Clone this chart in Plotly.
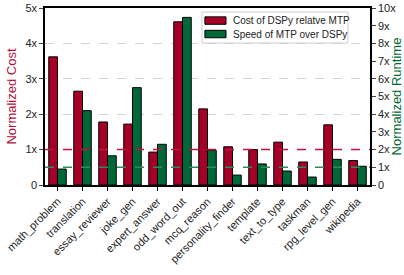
import plotly.graph_objects as go

categories = ["math_problem", "translation", "essay_reviewer", "joke_gen", "expert_answer",
              "odd_word_out", "mcq_reason", "personality_finder", "template", "text_to_type",
              "taskman", "rpg_level_gen", "wikipedia"]
cost = [3.62, 2.65, 1.78, 1.72, 0.93, 4.61, 2.15, 1.08, 1.0, 1.21, 0.65, 1.70, 0.69]
speed = [0.9, 4.2, 1.65, 5.5, 2.3, 9.47, 1.96, 0.56, 1.19, 0.79, 0.45, 1.45, 1.06]
series_names = ["Cost of DSPy relatve MTP", "Speed of MTP over DSPy"]
left_ticks = [0, 1, 2, 3, 4, 5]
left_labels = ["0", "1x", "2x", "3x", "4x", "5x"]
right_ticks = list(range(11))
right_labels = ["0"] + [f"{i}x" for i in range(1, 11)]

RED = "#A50026"
GREEN = "#006837"

fig = go.Figure()
fig.add_trace(go.Bar(x=categories, y=cost, name=series_names[0],
                     marker=dict(color=RED, line=dict(color="black", width=1)),
                     offsetgroup="a", yaxis="y", showlegend=False))
fig.add_trace(go.Bar(x=categories, y=speed, name=series_names[1],
                     marker=dict(color=GREEN, line=dict(color="black", width=1)),
                     offsetgroup="b", yaxis="y2", showlegend=False))

# reference lines at 1x on both axes
fig.add_shape(type="line", xref="paper", x0=0, x1=1, yref="y", y0=1, y1=1,
              line=dict(color="#C0143C", width=1.5, dash="dash"))
fig.add_shape(type="line", xref="paper", x0=0, x1=1, yref="y2", y0=1, y1=1,
              line=dict(color="#2E8B57", width=1.5, dash="dash"))

# compact legend box (matplotlib-like)
fig.add_shape(type="rect", xref="paper", yref="paper", x0=0.483, x1=0.932, y0=0.802, y1=0.977,
              fillcolor="rgba(255,255,255,0.85)", line=dict(color="#cccccc", width=1))
for i, (col, nm) in enumerate(zip([RED, GREEN], series_names)):
    yc = 0.929 - i * 0.076
    fig.add_shape(type="rect", xref="paper", yref="paper", x0=0.492, x1=0.557,
                  y0=yc - 0.021, y1=yc + 0.021, fillcolor=col,
                  line=dict(color="black", width=1))
    fig.add_annotation(xref="paper", yref="paper", x=0.572, y=yc, text=nm,
                       showarrow=False, xanchor="left", yanchor="middle",
                       font=dict(size=10, color="#222"))

fig.update_layout(
    width=404, height=275,
    margin=dict(l=45, r=34, t=8, b=90, autoexpand=False),
    plot_bgcolor="white", paper_bgcolor="white",
    font=dict(family="Liberation Sans, Arial", size=11, color="#222"),
    barmode="group", bargap=0.3, bargroupgap=0.0,
    showlegend=False,
    xaxis=dict(tickangle=-45, showline=True, linecolor="black", linewidth=1.5,
               mirror=True, ticks="outside", ticklen=4, tickcolor="black",
               automargin=False,
               tickfont=dict(size=11, color="#222")),
    yaxis=dict(range=[0, 5], tickvals=left_ticks, ticktext=left_labels,
               showline=True, linecolor="black", linewidth=1.5, ticks="outside",
               ticklen=4, showgrid=True, gridcolor="#d4d4d4", griddash="dash",
               zeroline=False, automargin=False,
               title=dict(text="Normalized Cost", font=dict(color="#B0103A", size=13), standoff=6)),
    yaxis2=dict(range=[0, 10], tickvals=right_ticks, ticktext=right_labels,
                overlaying="y", side="right", showline=True, linecolor="black",
                linewidth=1.5, ticks="outside", ticklen=4, showgrid=False,
                zeroline=False, automargin=False,
                title=dict(text="Normalized Runtime", font=dict(color=GREEN, size=13), standoff=6)),
)

fig.write_html("out.html", config={"displayModeBar": False},
               post_script="document.body.style.margin='0';")
